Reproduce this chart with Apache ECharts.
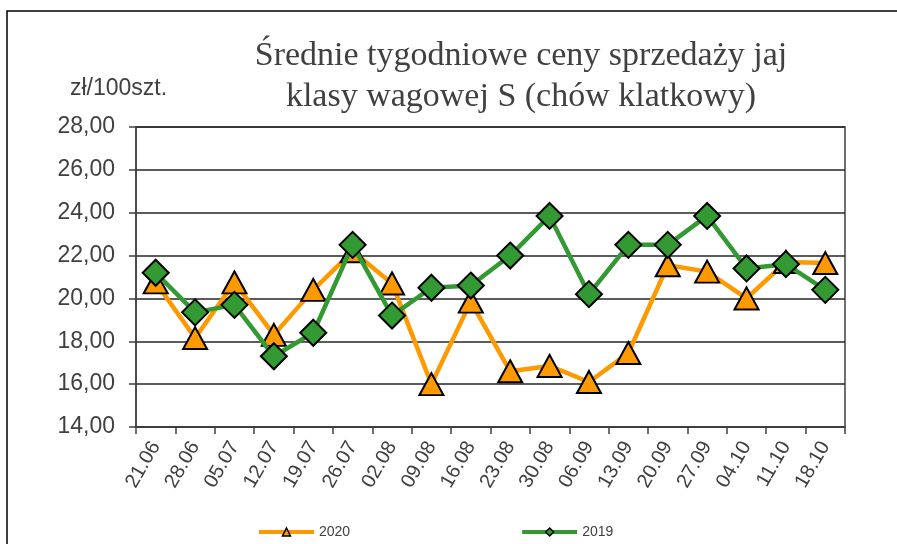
<!DOCTYPE html>
<html>
<head>
<meta charset="utf-8">
<script src="https://cdn.jsdelivr.net/npm/echarts@6/dist/echarts.min.js"></script>
<style>
html,body{margin:0;padding:0;background:#fff;}
#chart{width:897px;height:544px;}
</style>
</head>
<body>
<div id="chart"></div>
<script>
const categories = ['21.06','28.06','05.07','12.07','19.07','26.07','02.08','09.08','16.08','23.08','30.08','06.09','13.09','20.09','27.09','04.10','11.10','18.10'];
const values2020 = [20.75, 18.15, 20.75, 18.3, 20.4, 22.2, 20.7, 16.0, 19.85, 16.6, 16.85, 16.1, 17.45, 21.55, 21.25, 20.0, 21.7, 21.65];
const values2019 = [21.2, 19.35, 19.7, 17.3, 18.4, 22.5, 19.2, 20.5, 20.6, 22.0, 23.85, 20.2, 22.5, 22.5, 23.85, 21.4, 21.6, 20.4];
const yTicks = [14, 16, 18, 20, 22, 24, 26, 28];
const titleText = 'Średnie tygodniowe ceny sprzedaży jaj\nklasy wagowej S (chów klatkowy)';
const unitText = 'zł/100szt.';

const chart = echarts.init(document.getElementById('chart'));
chart.setOption({
  animation: false,
  backgroundColor: '#fff',
  title: {
    text: titleText,
    left: 516,
    top: 31,
    textAlign: 'center',
    textStyle: {
      fontFamily: 'Liberation Serif',
      fontSize: 34,
      fontWeight: 'normal',
      color: '#404040',
      lineHeight: 41
    }
  },
  graphic: [
    {
      type: 'rect',
      shape: { x: 7, y: 11, width: 1000, height: 1000 },
      style: { fill: 'none', stroke: '#000', lineWidth: 1.5 },
      silent: true
    },
    {
      type: 'text',
      left: 70,
      top: 77,
      style: { text: unitText, fontFamily: 'Arial, Liberation Sans', fontSize: 23, fill: '#404040' }
    }
  ],
  legend: {
    left: 257,
    top: 525,
    padding: 0,
    itemWidth: 55,
    itemHeight: 10,
    itemGap: 170,
    lineStyle: { width: 4 },
    itemStyle: { borderWidth: 1.5 },
    textStyle: { fontFamily: 'Arial, Liberation Sans', fontSize: 14, color: '#404040' },
    data: ['2020', '2019']
  },
  grid: {
    left: 136, right: 52, top: 127, bottom: 117,
    show: true, borderColor: '#404040', borderWidth: 1.5, backgroundColor: 'transparent'
  },
  xAxis: {
    type: 'category',
    data: categories,
    boundaryGap: true,
    axisLine: { lineStyle: { color: '#404040', width: 1.5 } },
    axisTick: { show: true, length: 7, inside: false, alignWithLabel: false, lineStyle: { color: '#404040', width: 1.5 } },
    axisLabel: { rotate: 60, margin: 16, fontFamily: 'Arial, Liberation Sans', fontSize: 20, color: '#404040', interval: 0 }
  },
  yAxis: {
    type: 'value',
    min: yTicks[0],
    max: yTicks[yTicks.length - 1],
    interval: 2,
    axisLine: { show: true, lineStyle: { color: '#404040', width: 1.5 } },
    axisTick: { show: true, length: 7, lineStyle: { color: '#404040', width: 1.5 } },
    splitLine: { show: true, lineStyle: { color: '#262626', width: 1.5 } },
    axisLabel: {
      margin: 21,
      fontFamily: 'Arial, Liberation Sans',
      fontSize: 23,
      color: '#404040',
      formatter: v => v.toFixed(2).replace('.', ',')
    }
  },
  series: [
    {
      name: '2020',
      type: 'line',
      data: values2020,
      symbol: 'triangle',
      symbolSize: [24, 22],
      lineStyle: { color: '#FF9900', width: 4.5 },
      itemStyle: { color: '#FF9900', borderColor: '#000', borderWidth: 2 },
      z: 2
    },
    {
      name: '2019',
      type: 'line',
      data: values2019,
      symbol: 'diamond',
      symbolSize: [26, 26],
      lineStyle: { color: '#339933', width: 4.5 },
      itemStyle: { color: '#339933', borderColor: '#000', borderWidth: 2 },
      z: 3
    }
  ]
});
</script>
</body>
</html>
